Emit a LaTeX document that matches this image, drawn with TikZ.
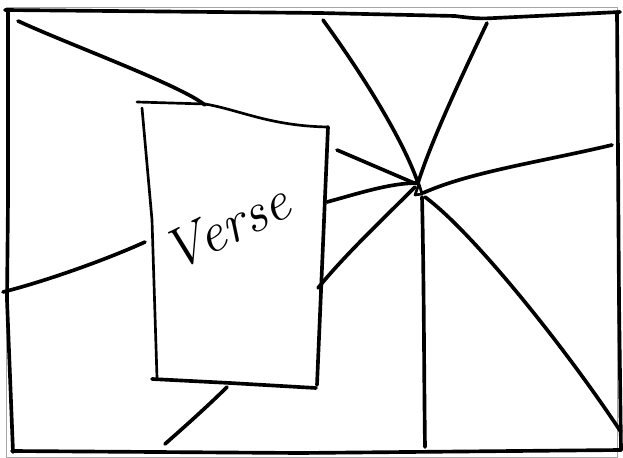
\documentclass[tikz,border=0pt]{standalone}
\usepackage{tikz}
\usetikzlibrary{shapes}
\usetikzlibrary{arrows}

\begin{document}
\begin{tikzpicture}[x=0.025cm,y=-0.025cm]
                \tikzset{stroke/.style = {line width=2.6pt,line cap=round,line join=round}}
                \tikzset{thinstroke/.style = {line width=1.9pt,line cap=round,line join=round}}
                \tikzset{outer/.style = {line width=0.5pt,gray!70}}

                \useasboundingbox (0,0) rectangle (623,458);
                \draw[outer] (6,7) rectangle (617,457);

                % frame
                \draw[stroke] (5,10) -- (320,13) -- (455,16) .. controls (470,18) and (480,19) .. (495,18) -- (620,12);
                \draw[stroke] (8,10) -- (8,200) -- (7,300) -- (13,452);
                \draw[stroke] (12,451) -- (300,453) -- (621,450);
                \draw[stroke] (617,12) -- (619,300) -- (621,450);

                % vanishing point and ends
                \coordinate (vp) at (418,183);
                \coordinate (ul) at (323,20);
                \coordinate (ur) at (487,23);
                \coordinate (lu) at (337,150);
                \coordinate (ld) at (327,202);
                \coordinate (rr) at (612,145);
                \coordinate (dl) at (318,288);
                \coordinate (dd) at (425,447);
                \coordinate (dr) at (621,432);

                \draw[stroke] (ul) .. controls (370,85) and (405,145) .. (vp);
                \draw[stroke] (ur) .. controls (455,90) and (430,145) .. (vp);
                \draw[stroke] (lu) -- (414,183);
                \draw[stroke] (ld) .. controls (360,193) and (390,183) .. (vp);
                \draw[stroke] (423,193) .. controls (470,172) and (540,162) .. (rr);
                \draw[stroke] (415,187) .. controls (380,222) and (345,255) .. (dl);
                \draw[stroke] (422,197) .. controls (424,280) and (424,380) .. (dd);
                \draw[stroke] (425,197) .. controls (470,230) and (560,340) .. (dr);
                \draw[thinstroke] (415,195) -- (419,184) -- (422,194) -- cycle;

                % card
                \draw[stroke] (18,21) .. controls (70,45) and (180,85) .. (205,105);
                \draw[thinstroke] (137,102) -- (205,104) .. controls (240,110) and (270,126) .. (328,127);
                \draw[stroke] (328,127) -- (317,385);
                \draw[thinstroke] (142,108) -- (152,220) -- (157,378);
                \draw[stroke] (152,379) -- (230,383) -- (316,388);

                % side lines
                \draw[stroke] (3,292) .. controls (50,280) and (110,258) .. (145,242);
                \draw[stroke] (165,444) .. controls (190,422) and (212,402) .. (227,387);

                \node[rotate=26] (title) at (226,227) {\fontsize{40}{40}\selectfont\itshape Verse};

        \end{tikzpicture}
\end{document}
